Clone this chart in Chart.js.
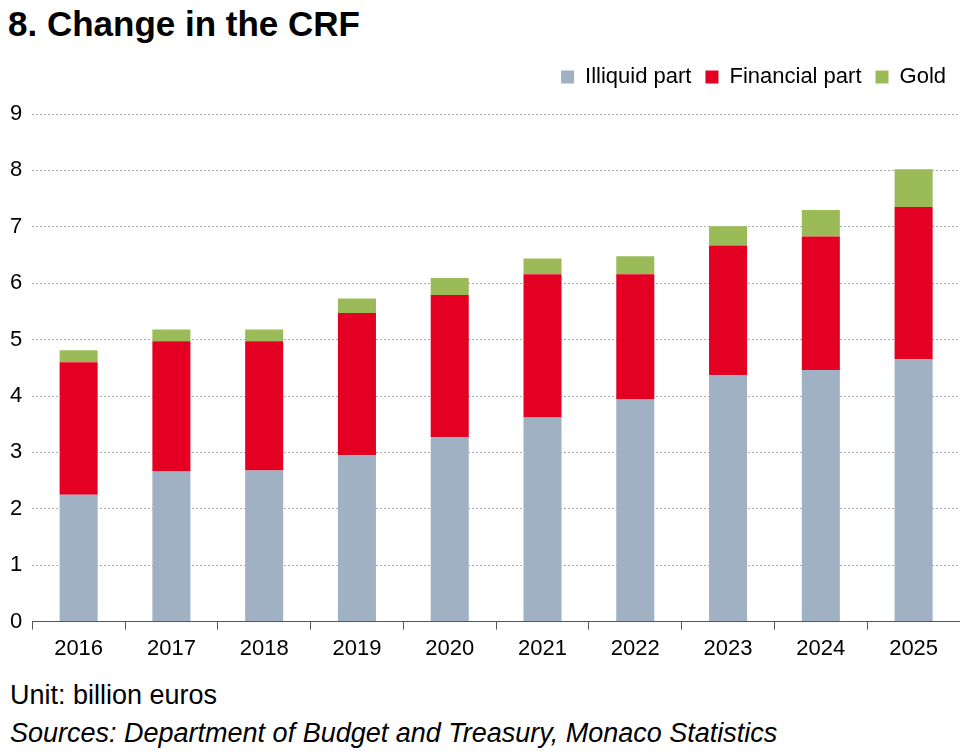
<!DOCTYPE html>
<html>
<head>
<meta charset="utf-8">
<script src="https://cdn.jsdelivr.net/npm/chart.js@4/dist/chart.umd.min.js"></script>
<style>
  body { margin: 0; background: #fff; font-family: "Liberation Sans", Arial, sans-serif; }
  #wrap { position: relative; width: 971px; height: 754px; }
  h1 { position: absolute; left: 8px; top: 4px; margin: 0; font-size: 35px; font-weight: bold; color: #000; }
  #box { position: absolute; left: 0; top: 52px; width: 960px; height: 616px; }
  .foot { position: absolute; left: 10px; font-size: 27px; color: #000; }
</style>
</head>
<body>
<div id="wrap">
  <h1>8. Change in the CRF</h1>
  <div id="box"><canvas id="myChart"></canvas></div>
  <div class="foot" style="top:680px">Unit: billion euros</div>
  <div class="foot" style="top:718px;font-style:italic">Sources: Department of Budget and Treasury, Monaco Statistics</div>
</div>
<script>
const years = ["2016", "2017", "2018", "2019", "2020", "2021", "2022", "2023", "2024", "2025"];
const illiquid = [2.25, 2.66, 2.68, 2.95, 3.27, 3.62, 3.94, 4.37, 4.46, 4.65];
const financial = [2.35, 2.31, 2.29, 2.52, 2.52, 2.54, 2.22, 2.30, 2.37, 2.70];
const gold = [0.21, 0.21, 0.21, 0.26, 0.30, 0.28, 0.32, 0.34, 0.47, 0.67];

Chart.defaults.font.family = '"Liberation Sans", Arial, sans-serif';
Chart.defaults.color = "#000";

const legendGap = {
  id: "legendGap",
  beforeInit(chart) {
    const fit = chart.legend.fit;
    chart.legend.fit = function () {
      fit.bind(chart.legend)();
      this.height += 16;
    };
  }
};

new Chart("myChart", {
  type: "bar",
  data: {
    labels: years,
    datasets: [
      { label: "Illiquid part", data: illiquid, backgroundColor: "#9fb1c3" },
      { label: "Financial part", data: financial, backgroundColor: "#e30022" },
      { label: "Gold", data: gold, backgroundColor: "#9bbb59" }
    ]
  },
  options: {
    responsive: true,
    maintainAspectRatio: false,
    animation: false,
    datasets: { bar: { categoryPercentage: 1, barPercentage: 0.41 } },
    plugins: {
      legend: {
        align: "end",
        labels: { boxWidth: 13, boxHeight: 13, font: { size: 22 }, padding: 14 }
      },
      tooltip: { enabled: false }
    },
    scales: {
      x: {
        stacked: true,
        grid: { display: true, drawOnChartArea: false, color: "#555", tickLength: 8, offset: true },
        border: { color: "#555" },
        ticks: { font: { size: 22 }, padding: 6 }
      },
      y: {
        stacked: true,
        min: 0, max: 9,
        ticks: { stepSize: 1, font: { size: 22 }, padding: 10 },
        grid: { color: "#aaa", tickLength: 0 },
        border: { display: false, dash: [2, 2] }
      }
    }
  },
  plugins: [legendGap]
});
</script>
</body>
</html>
